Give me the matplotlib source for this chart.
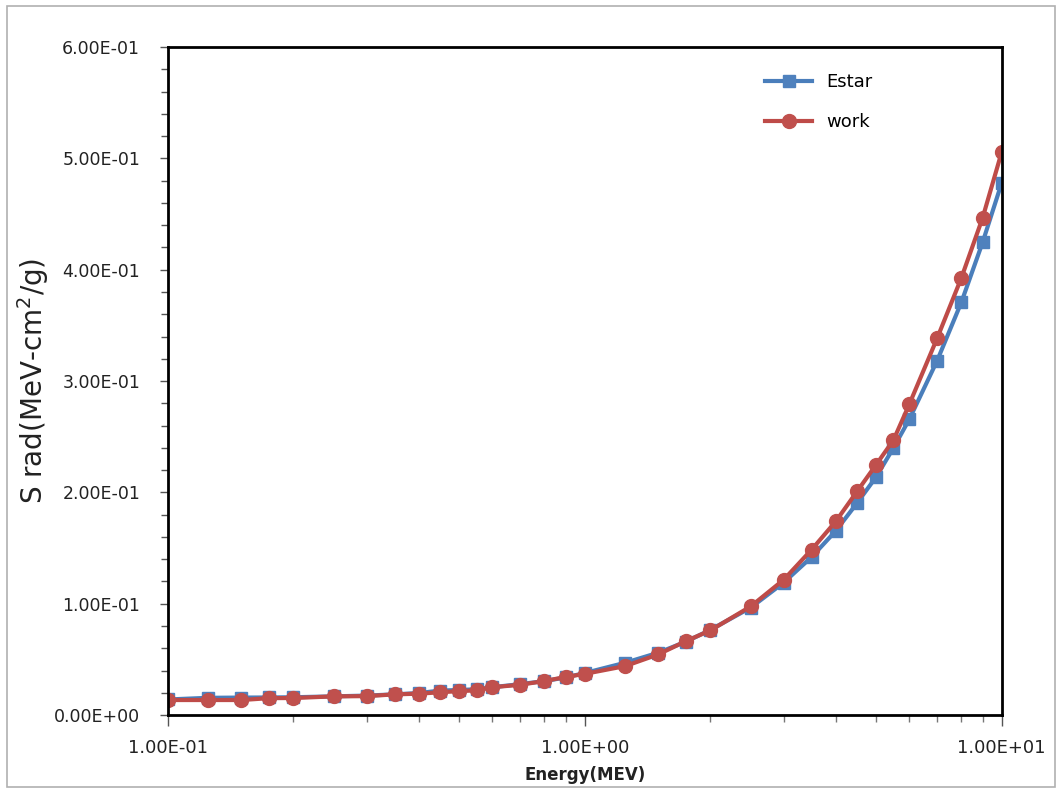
import matplotlib
matplotlib.use("Agg")
import matplotlib.pyplot as plt
from matplotlib.patches import Rectangle
from matplotlib.ticker import FixedLocator, MultipleLocator, FuncFormatter, NullFormatter

# energy grid (MeV) and radiative stopping powers (MeV cm2/g)
energy = [0.1, 0.125, 0.15, 0.175, 0.2, 0.25, 0.3, 0.35, 0.4, 0.45, 0.5, 0.55, 0.6,
          0.7, 0.8, 0.9, 1.0, 1.25, 1.5, 1.75, 2.0, 2.5, 3.0, 3.5, 4.0, 4.5, 5.0,
          5.5, 6.0, 7.0, 8.0, 9.0, 10.0]
estar = [0.0140, 0.0155, 0.0157, 0.0158, 0.0160, 0.0168, 0.0175, 0.0186, 0.0198,
         0.0220, 0.0225, 0.0232, 0.0250, 0.0278, 0.0305, 0.0338, 0.0378, 0.0470,
         0.0560, 0.0660, 0.0765, 0.0965, 0.1190, 0.1420, 0.1655, 0.1905, 0.2140,
         0.2400, 0.2655, 0.3183, 0.3706, 0.4246, 0.4780]
work = [0.0135, 0.0135, 0.0135, 0.0152, 0.0153, 0.0168, 0.0170, 0.0186, 0.0192,
        0.0205, 0.0215, 0.0222, 0.0250, 0.0272, 0.0306, 0.0342, 0.0370, 0.0440,
        0.0545, 0.0665, 0.0760, 0.0976, 0.1216, 0.1486, 0.1740, 0.2010, 0.2250,
        0.2470, 0.2790, 0.3384, 0.3925, 0.4466, 0.5057]

x_major = [0.1, 1.0, 10.0]
x_labels = ["1.00E-01", "1.00E+00", "1.00E+01"]

fig = plt.figure(figsize=(10.6, 7.91), dpi=100)
fig.patches.append(Rectangle((0.007, 0.005), 0.988, 0.987, transform=fig.transFigure,
                             fill=False, edgecolor="#b0b0b0", linewidth=1.2))

ax = fig.add_axes([0.1585, 0.096, 0.7865, 0.8445])

ax.plot(energy, estar, color="#4A7EBB", linewidth=3, marker="s", markersize=9,
        markerfacecolor="#4F81BD", markeredgecolor="#4F81BD", label="Estar")
ax.plot(energy, work, color="#BE4B48", linewidth=3, marker="o", markersize=10,
        markerfacecolor="#C0504D", markeredgecolor="#C0504D", label="work")

ax.set_xscale("log")
ax.set_xlim(0.1, 10)
ax.set_ylim(0, 0.6)

ax.xaxis.set_major_locator(FixedLocator(x_major))
ax.xaxis.set_major_formatter(FuncFormatter(lambda v, p: x_labels[x_major.index(min(x_major, key=lambda m: abs(m - v)))]))
ax.xaxis.set_minor_formatter(NullFormatter())
ax.yaxis.set_major_locator(MultipleLocator(0.1))
ax.yaxis.set_minor_locator(MultipleLocator(0.02))
ax.yaxis.set_major_formatter(FuncFormatter(lambda v, p: "%.2E" % v))

for s in ax.spines.values():
    s.set_linewidth(2)
    s.set_color("black")

ax.tick_params(axis="y", which="both", direction="out", length=6, width=1,
               color="#555555", labelsize=12.5, pad=14, labelcolor="#222222")
ax.tick_params(axis="y", which="minor", length=5)
ax.tick_params(axis="x", which="major", direction="out", length=8, width=1,
               color="#555555", labelsize=13, pad=9, labelcolor="#222222")
ax.tick_params(axis="x", which="minor", direction="out", length=5, width=1, color="#777777")

ax.set_xlabel("Energy(MEV)", fontsize=12, fontweight="bold", labelpad=7, color="#222222")
ax.set_ylabel("S rad(MeV-cm$^2$/g)", fontsize=20, labelpad=2, color="#222222")

ax.legend(loc="upper right", bbox_to_anchor=(0.865, 0.985), frameon=False, fontsize=13,
          handlelength=2.6, labelspacing=1.2, borderaxespad=0.5)

fig.savefig("out.png", dpi=100)
